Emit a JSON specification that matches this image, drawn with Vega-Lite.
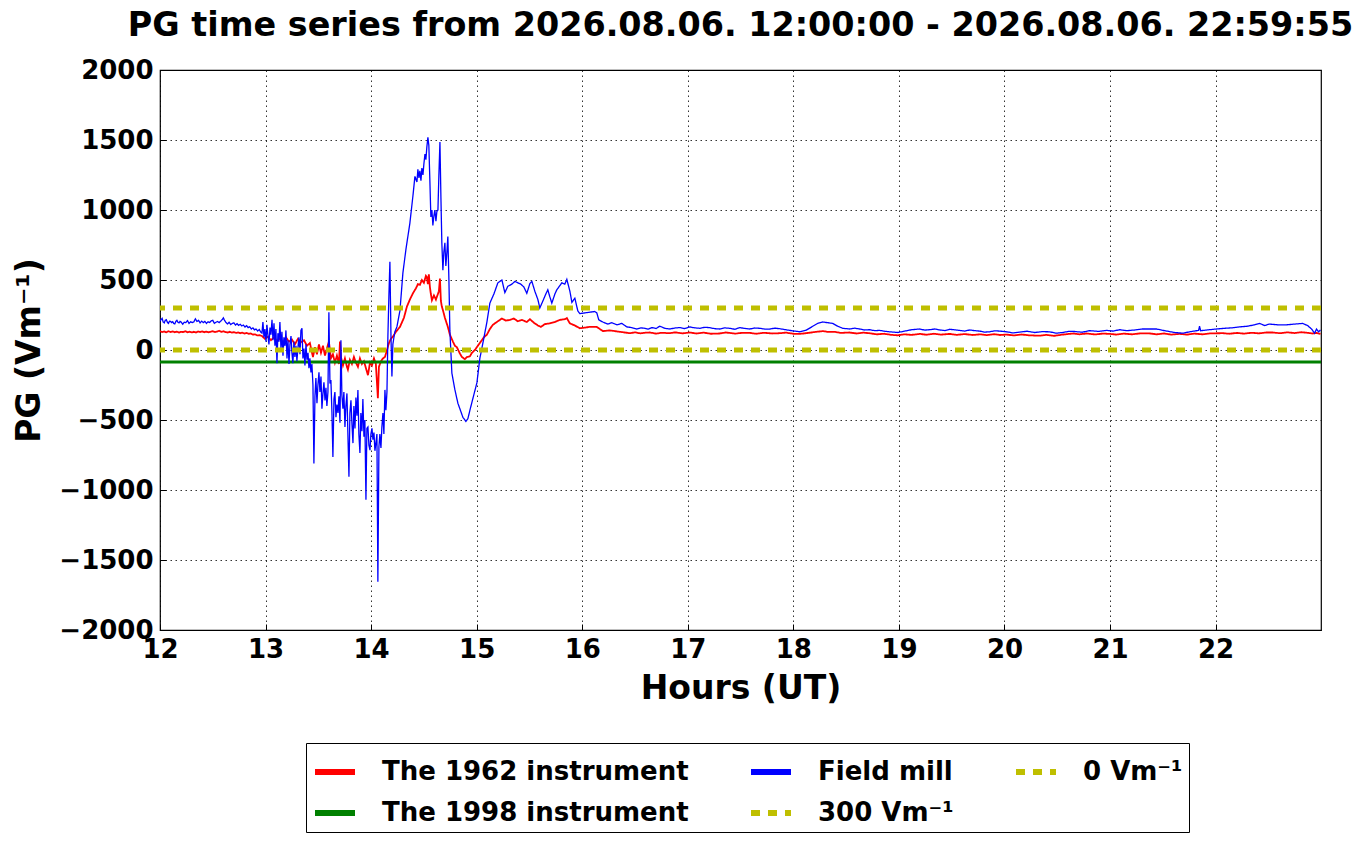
{
  "$schema": "https://vega.github.io/schema/vega-lite/v6.json",
  "width": 1161,
  "height": 560,
  "autosize": {"type": "none"},
  "padding": {"left": 160, "top": 70, "right": 40, "bottom": 214},
  "background": "white",
  "title": {
    "text": "PG time series from 2026.08.06. 12:00:00 - 2026.08.06. 22:59:55",
    "anchor": "middle",
    "offset": 14,
    "font": "DejaVu Sans",
    "fontSize": 33.4,
    "fontWeight": "bold",
    "color": "black"
  },
  "config": {
    "view": {"stroke": "black", "strokeWidth": 1.2},
    "axis": {
      "labelFont": "DejaVu Sans",
      "labelFontSize": 26,
      "labelFontWeight": "bold",
      "labelColor": "black",
      "labelFlush": false,
      "labelOverlap": false,
      "titleFont": "DejaVu Sans",
      "titleFontSize": 33,
      "titleFontWeight": "bold",
      "titleColor": "black",
      "domain": false,
      "ticks": true,
      "tickColor": "black",
      "tickWidth": 1,
      "tickSize": -6,
      "grid": true,
      "gridColor": "black",
      "gridDash": [1.5, 3.5],
      "gridWidth": 1,
      "gridOpacity": 0.8
    },
    "legend": {
      "labelFont": "DejaVu Sans",
      "labelFontSize": 26,
      "labelFontWeight": "bold",
      "labelColor": "black",
      "labelLimit": 0
    }
  },
  "datasets": {
    "pg": [
      {"series": "The 1962 instrument", "h": 12.00, "v": 135},
      {"series": "The 1962 instrument", "h": 12.02, "v": 128},
      {"series": "The 1962 instrument", "h": 12.04, "v": 132},
      {"series": "The 1962 instrument", "h": 12.06, "v": 126},
      {"series": "The 1962 instrument", "h": 12.08, "v": 134},
      {"series": "The 1962 instrument", "h": 12.10, "v": 129},
      {"series": "The 1962 instrument", "h": 12.12, "v": 133},
      {"series": "The 1962 instrument", "h": 12.14, "v": 127},
      {"series": "The 1962 instrument", "h": 12.16, "v": 131},
      {"series": "The 1962 instrument", "h": 12.18, "v": 125},
      {"series": "The 1962 instrument", "h": 12.20, "v": 130},
      {"series": "The 1962 instrument", "h": 12.22, "v": 128},
      {"series": "The 1962 instrument", "h": 12.24, "v": 134},
      {"series": "The 1962 instrument", "h": 12.26, "v": 127},
      {"series": "The 1962 instrument", "h": 12.28, "v": 131},
      {"series": "The 1962 instrument", "h": 12.30, "v": 126},
      {"series": "The 1962 instrument", "h": 12.32, "v": 130},
      {"series": "The 1962 instrument", "h": 12.34, "v": 125},
      {"series": "The 1962 instrument", "h": 12.36, "v": 132},
      {"series": "The 1962 instrument", "h": 12.38, "v": 128},
      {"series": "The 1962 instrument", "h": 12.40, "v": 133},
      {"series": "The 1962 instrument", "h": 12.42, "v": 127},
      {"series": "The 1962 instrument", "h": 12.44, "v": 131},
      {"series": "The 1962 instrument", "h": 12.46, "v": 126},
      {"series": "The 1962 instrument", "h": 12.48, "v": 130},
      {"series": "The 1962 instrument", "h": 12.50, "v": 134},
      {"series": "The 1962 instrument", "h": 12.52, "v": 128},
      {"series": "The 1962 instrument", "h": 12.54, "v": 132},
      {"series": "The 1962 instrument", "h": 12.56, "v": 137},
      {"series": "The 1962 instrument", "h": 12.58, "v": 130},
      {"series": "The 1962 instrument", "h": 12.60, "v": 134},
      {"series": "The 1962 instrument", "h": 12.62, "v": 128},
      {"series": "The 1962 instrument", "h": 12.64, "v": 125},
      {"series": "The 1962 instrument", "h": 12.66, "v": 130},
      {"series": "The 1962 instrument", "h": 12.68, "v": 124},
      {"series": "The 1962 instrument", "h": 12.70, "v": 128},
      {"series": "The 1962 instrument", "h": 12.72, "v": 122},
      {"series": "The 1962 instrument", "h": 12.74, "v": 126},
      {"series": "The 1962 instrument", "h": 12.76, "v": 120},
      {"series": "The 1962 instrument", "h": 12.78, "v": 124},
      {"series": "The 1962 instrument", "h": 12.80, "v": 118},
      {"series": "The 1962 instrument", "h": 12.82, "v": 122},
      {"series": "The 1962 instrument", "h": 12.84, "v": 116},
      {"series": "The 1962 instrument", "h": 12.86, "v": 118},
      {"series": "The 1962 instrument", "h": 12.88, "v": 110},
      {"series": "The 1962 instrument", "h": 12.90, "v": 112},
      {"series": "The 1962 instrument", "h": 12.92, "v": 104},
      {"series": "The 1962 instrument", "h": 12.94, "v": 106},
      {"series": "The 1962 instrument", "h": 12.966, "v": 100},
      {"series": "The 1962 instrument", "h": 12.994, "v": 80},
      {"series": "The 1962 instrument", "h": 13.023, "v": 95},
      {"series": "The 1962 instrument", "h": 13.051, "v": 70},
      {"series": "The 1962 instrument", "h": 13.080, "v": 90},
      {"series": "The 1962 instrument", "h": 13.108, "v": 60},
      {"series": "The 1962 instrument", "h": 13.136, "v": 85},
      {"series": "The 1962 instrument", "h": 13.165, "v": 50},
      {"series": "The 1962 instrument", "h": 13.193, "v": 90},
      {"series": "The 1962 instrument", "h": 13.222, "v": 60},
      {"series": "The 1962 instrument", "h": 13.250, "v": 75},
      {"series": "The 1962 instrument", "h": 13.278, "v": 40},
      {"series": "The 1962 instrument", "h": 13.307, "v": 80},
      {"series": "The 1962 instrument", "h": 13.335, "v": 55},
      {"series": "The 1962 instrument", "h": 13.364, "v": 70},
      {"series": "The 1962 instrument", "h": 13.392, "v": 30},
      {"series": "The 1962 instrument", "h": 13.420, "v": 50},
      {"series": "The 1962 instrument", "h": 13.449, "v": -50},
      {"series": "The 1962 instrument", "h": 13.468, "v": 20},
      {"series": "The 1962 instrument", "h": 13.487, "v": -30},
      {"series": "The 1962 instrument", "h": 13.506, "v": 40},
      {"series": "The 1962 instrument", "h": 13.525, "v": -20},
      {"series": "The 1962 instrument", "h": 13.544, "v": 30},
      {"series": "The 1962 instrument", "h": 13.563, "v": -40},
      {"series": "The 1962 instrument", "h": 13.581, "v": 10},
      {"series": "The 1962 instrument", "h": 13.600, "v": 60},
      {"series": "The 1962 instrument", "h": 13.619, "v": -60},
      {"series": "The 1962 instrument", "h": 13.638, "v": -30},
      {"series": "The 1962 instrument", "h": 13.657, "v": -90},
      {"series": "The 1962 instrument", "h": 13.676, "v": -40},
      {"series": "The 1962 instrument", "h": 13.695, "v": -100},
      {"series": "The 1962 instrument", "h": 13.705, "v": 60},
      {"series": "The 1962 instrument", "h": 13.714, "v": -50},
      {"series": "The 1962 instrument", "h": 13.733, "v": -110},
      {"series": "The 1962 instrument", "h": 13.752, "v": -60},
      {"series": "The 1962 instrument", "h": 13.771, "v": -120},
      {"series": "The 1962 instrument", "h": 13.780, "v": -140},
      {"series": "The 1962 instrument", "h": 13.799, "v": -70},
      {"series": "The 1962 instrument", "h": 13.818, "v": -100},
      {"series": "The 1962 instrument", "h": 13.837, "v": -50},
      {"series": "The 1962 instrument", "h": 13.856, "v": -90},
      {"series": "The 1962 instrument", "h": 13.875, "v": -120},
      {"series": "The 1962 instrument", "h": 13.894, "v": -60},
      {"series": "The 1962 instrument", "h": 13.913, "v": -100},
      {"series": "The 1962 instrument", "h": 13.932, "v": -80},
      {"series": "The 1962 instrument", "h": 13.951, "v": -130},
      {"series": "The 1962 instrument", "h": 13.970, "v": -180},
      {"series": "The 1962 instrument", "h": 13.989, "v": -90},
      {"series": "The 1962 instrument", "h": 14.008, "v": -110},
      {"series": "The 1962 instrument", "h": 14.027, "v": -60},
      {"series": "The 1962 instrument", "h": 14.045, "v": -100},
      {"series": "The 1962 instrument", "h": 14.064, "v": -345},
      {"series": "The 1962 instrument", "h": 14.074, "v": -120},
      {"series": "The 1962 instrument", "h": 14.093, "v": -80},
      {"series": "The 1962 instrument", "h": 14.112, "v": -60},
      {"series": "The 1962 instrument", "h": 14.131, "v": -50},
      {"series": "The 1962 instrument", "h": 14.150, "v": 0},
      {"series": "The 1962 instrument", "h": 14.169, "v": 50},
      {"series": "The 1962 instrument", "h": 14.188, "v": 80},
      {"series": "The 1962 instrument", "h": 14.206, "v": 95},
      {"series": "The 1962 instrument", "h": 14.235, "v": 130},
      {"series": "The 1962 instrument", "h": 14.273, "v": 165},
      {"series": "The 1962 instrument", "h": 14.311, "v": 230},
      {"series": "The 1962 instrument", "h": 14.339, "v": 310},
      {"series": "The 1962 instrument", "h": 14.367, "v": 360},
      {"series": "The 1962 instrument", "h": 14.396, "v": 405},
      {"series": "The 1962 instrument", "h": 14.424, "v": 440},
      {"series": "The 1962 instrument", "h": 14.443, "v": 470},
      {"series": "The 1962 instrument", "h": 14.462, "v": 465},
      {"series": "The 1962 instrument", "h": 14.481, "v": 500},
      {"series": "The 1962 instrument", "h": 14.500, "v": 480},
      {"series": "The 1962 instrument", "h": 14.519, "v": 530},
      {"series": "The 1962 instrument", "h": 14.528, "v": 520},
      {"series": "The 1962 instrument", "h": 14.538, "v": 470},
      {"series": "The 1962 instrument", "h": 14.547, "v": 540},
      {"series": "The 1962 instrument", "h": 14.557, "v": 450},
      {"series": "The 1962 instrument", "h": 14.566, "v": 400},
      {"series": "The 1962 instrument", "h": 14.576, "v": 355},
      {"series": "The 1962 instrument", "h": 14.595, "v": 390},
      {"series": "The 1962 instrument", "h": 14.614, "v": 360},
      {"series": "The 1962 instrument", "h": 14.623, "v": 380},
      {"series": "The 1962 instrument", "h": 14.633, "v": 400},
      {"series": "The 1962 instrument", "h": 14.642, "v": 420},
      {"series": "The 1962 instrument", "h": 14.652, "v": 510},
      {"series": "The 1962 instrument", "h": 14.661, "v": 350},
      {"series": "The 1962 instrument", "h": 14.670, "v": 310},
      {"series": "The 1962 instrument", "h": 14.680, "v": 285},
      {"series": "The 1962 instrument", "h": 14.699, "v": 230},
      {"series": "The 1962 instrument", "h": 14.727, "v": 165},
      {"series": "The 1962 instrument", "h": 14.746, "v": 110},
      {"series": "The 1962 instrument", "h": 14.775, "v": 60},
      {"series": "The 1962 instrument", "h": 14.794, "v": 30},
      {"series": "The 1962 instrument", "h": 14.812, "v": 20},
      {"series": "The 1962 instrument", "h": 14.841, "v": -25},
      {"series": "The 1962 instrument", "h": 14.860, "v": -50},
      {"series": "The 1962 instrument", "h": 14.888, "v": -65},
      {"series": "The 1962 instrument", "h": 14.907, "v": -50},
      {"series": "The 1962 instrument", "h": 14.936, "v": -45},
      {"series": "The 1962 instrument", "h": 14.955, "v": -20},
      {"series": "The 1962 instrument", "h": 14.983, "v": 0},
      {"series": "The 1962 instrument", "h": 15.011, "v": 30},
      {"series": "The 1962 instrument", "h": 15.030, "v": 50},
      {"series": "The 1962 instrument", "h": 15.068, "v": 90},
      {"series": "The 1962 instrument", "h": 15.097, "v": 110},
      {"series": "The 1962 instrument", "h": 15.125, "v": 150},
      {"series": "The 1962 instrument", "h": 15.153, "v": 180},
      {"series": "The 1962 instrument", "h": 15.191, "v": 200},
      {"series": "The 1962 instrument", "h": 15.239, "v": 225},
      {"series": "The 1962 instrument", "h": 15.277, "v": 210},
      {"series": "The 1962 instrument", "h": 15.314, "v": 215},
      {"series": "The 1962 instrument", "h": 15.352, "v": 225},
      {"series": "The 1962 instrument", "h": 15.390, "v": 205},
      {"series": "The 1962 instrument", "h": 15.428, "v": 215},
      {"series": "The 1962 instrument", "h": 15.475, "v": 200},
      {"series": "The 1962 instrument", "h": 15.504, "v": 220},
      {"series": "The 1962 instrument", "h": 15.542, "v": 195},
      {"series": "The 1962 instrument", "h": 15.580, "v": 175},
      {"series": "The 1962 instrument", "h": 15.608, "v": 165},
      {"series": "The 1962 instrument", "h": 15.646, "v": 185},
      {"series": "The 1962 instrument", "h": 15.693, "v": 190},
      {"series": "The 1962 instrument", "h": 15.741, "v": 200},
      {"series": "The 1962 instrument", "h": 15.788, "v": 215},
      {"series": "The 1962 instrument", "h": 15.835, "v": 220},
      {"series": "The 1962 instrument", "h": 15.854, "v": 228},
      {"series": "The 1962 instrument", "h": 15.883, "v": 190},
      {"series": "The 1962 instrument", "h": 15.930, "v": 175},
      {"series": "The 1962 instrument", "h": 15.977, "v": 155},
      {"series": "The 1962 instrument", "h": 16.025, "v": 160},
      {"series": "The 1962 instrument", "h": 16.072, "v": 165},
      {"series": "The 1962 instrument", "h": 16.138, "v": 165},
      {"series": "The 1962 instrument", "h": 16.195, "v": 135},
      {"series": "The 1962 instrument", "h": 16.261, "v": 140},
      {"series": "The 1962 instrument", "h": 16.356, "v": 130},
      {"series": "The 1962 instrument", "h": 16.451, "v": 120},
      {"series": "The 1962 instrument", "h": 16.50, "v": 126},
      {"series": "The 1962 instrument", "h": 16.55, "v": 119},
      {"series": "The 1962 instrument", "h": 16.60, "v": 124},
      {"series": "The 1962 instrument", "h": 16.64, "v": 125},
      {"series": "The 1962 instrument", "h": 16.70, "v": 117},
      {"series": "The 1962 instrument", "h": 16.75, "v": 123},
      {"series": "The 1962 instrument", "h": 16.83, "v": 120},
      {"series": "The 1962 instrument", "h": 16.88, "v": 126},
      {"series": "The 1962 instrument", "h": 16.95, "v": 119},
      {"series": "The 1962 instrument", "h": 17.02, "v": 125},
      {"series": "The 1962 instrument", "h": 17.08, "v": 118},
      {"series": "The 1962 instrument", "h": 17.15, "v": 124},
      {"series": "The 1962 instrument", "h": 17.22, "v": 116},
      {"series": "The 1962 instrument", "h": 17.30, "v": 118},
      {"series": "The 1962 instrument", "h": 17.36, "v": 125},
      {"series": "The 1962 instrument", "h": 17.45, "v": 117},
      {"series": "The 1962 instrument", "h": 17.52, "v": 123},
      {"series": "The 1962 instrument", "h": 17.59, "v": 122},
      {"series": "The 1962 instrument", "h": 17.65, "v": 116},
      {"series": "The 1962 instrument", "h": 17.72, "v": 123},
      {"series": "The 1962 instrument", "h": 17.80, "v": 118},
      {"series": "The 1962 instrument", "h": 17.87, "v": 120},
      {"series": "The 1962 instrument", "h": 17.93, "v": 124},
      {"series": "The 1962 instrument", "h": 18.00, "v": 116},
      {"series": "The 1962 instrument", "h": 18.06, "v": 115},
      {"series": "The 1962 instrument", "h": 18.12, "v": 120},
      {"series": "The 1962 instrument", "h": 18.17, "v": 125},
      {"series": "The 1962 instrument", "h": 18.23, "v": 131},
      {"series": "The 1962 instrument", "h": 18.28, "v": 135},
      {"series": "The 1962 instrument", "h": 18.33, "v": 129},
      {"series": "The 1962 instrument", "h": 18.39, "v": 130},
      {"series": "The 1962 instrument", "h": 18.45, "v": 122},
      {"series": "The 1962 instrument", "h": 18.53, "v": 125},
      {"series": "The 1962 instrument", "h": 18.60, "v": 118},
      {"series": "The 1962 instrument", "h": 18.66, "v": 124},
      {"series": "The 1962 instrument", "h": 18.72, "v": 120},
      {"series": "The 1962 instrument", "h": 18.79, "v": 112},
      {"series": "The 1962 instrument", "h": 18.86, "v": 116},
      {"series": "The 1962 instrument", "h": 18.93, "v": 108},
      {"series": "The 1962 instrument", "h": 18.99, "v": 105},
      {"series": "The 1962 instrument", "h": 19.05, "v": 112},
      {"series": "The 1962 instrument", "h": 19.12, "v": 108},
      {"series": "The 1962 instrument", "h": 19.20, "v": 115},
      {"series": "The 1962 instrument", "h": 19.26, "v": 109},
      {"series": "The 1962 instrument", "h": 19.33, "v": 116},
      {"series": "The 1962 instrument", "h": 19.40, "v": 110},
      {"series": "The 1962 instrument", "h": 19.48, "v": 115},
      {"series": "The 1962 instrument", "h": 19.55, "v": 108},
      {"series": "The 1962 instrument", "h": 19.62, "v": 114},
      {"series": "The 1962 instrument", "h": 19.70, "v": 107},
      {"series": "The 1962 instrument", "h": 19.77, "v": 112},
      {"series": "The 1962 instrument", "h": 19.83, "v": 106},
      {"series": "The 1962 instrument", "h": 19.90, "v": 113},
      {"series": "The 1962 instrument", "h": 19.96, "v": 107},
      {"series": "The 1962 instrument", "h": 20.02, "v": 110},
      {"series": "The 1962 instrument", "h": 20.09, "v": 104},
      {"series": "The 1962 instrument", "h": 20.16, "v": 111},
      {"series": "The 1962 instrument", "h": 20.23, "v": 105},
      {"series": "The 1962 instrument", "h": 20.33, "v": 102},
      {"series": "The 1962 instrument", "h": 20.40, "v": 108},
      {"series": "The 1962 instrument", "h": 20.47, "v": 101},
      {"series": "The 1962 instrument", "h": 20.55, "v": 110},
      {"series": "The 1962 instrument", "h": 20.65, "v": 118},
      {"series": "The 1962 instrument", "h": 20.71, "v": 112},
      {"series": "The 1962 instrument", "h": 20.78, "v": 118},
      {"series": "The 1962 instrument", "h": 20.86, "v": 111},
      {"series": "The 1962 instrument", "h": 20.93, "v": 117},
      {"series": "The 1962 instrument", "h": 21.00, "v": 115},
      {"series": "The 1962 instrument", "h": 21.06, "v": 110},
      {"series": "The 1962 instrument", "h": 21.13, "v": 117},
      {"series": "The 1962 instrument", "h": 21.21, "v": 112},
      {"series": "The 1962 instrument", "h": 21.29, "v": 119},
      {"series": "The 1962 instrument", "h": 21.38, "v": 118},
      {"series": "The 1962 instrument", "h": 21.44, "v": 112},
      {"series": "The 1962 instrument", "h": 21.51, "v": 118},
      {"series": "The 1962 instrument", "h": 21.58, "v": 110},
      {"series": "The 1962 instrument", "h": 21.66, "v": 115},
      {"series": "The 1962 instrument", "h": 21.73, "v": 110},
      {"series": "The 1962 instrument", "h": 21.80, "v": 117},
      {"series": "The 1962 instrument", "h": 21.88, "v": 112},
      {"series": "The 1962 instrument", "h": 21.95, "v": 119},
      {"series": "The 1962 instrument", "h": 22.07, "v": 120},
      {"series": "The 1962 instrument", "h": 22.13, "v": 116},
      {"series": "The 1962 instrument", "h": 22.20, "v": 122},
      {"series": "The 1962 instrument", "h": 22.27, "v": 117},
      {"series": "The 1962 instrument", "h": 22.34, "v": 123},
      {"series": "The 1962 instrument", "h": 22.41, "v": 119},
      {"series": "The 1962 instrument", "h": 22.48, "v": 125},
      {"series": "The 1962 instrument", "h": 22.54, "v": 125},
      {"series": "The 1962 instrument", "h": 22.61, "v": 120},
      {"series": "The 1962 instrument", "h": 22.68, "v": 126},
      {"series": "The 1962 instrument", "h": 22.75, "v": 121},
      {"series": "The 1962 instrument", "h": 22.81, "v": 127},
      {"series": "The 1962 instrument", "h": 22.86, "v": 124},
      {"series": "The 1962 instrument", "h": 22.92, "v": 118},
      {"series": "The 1962 instrument", "h": 22.96, "v": 122},
      {"series": "The 1962 instrument", "h": 22.994, "v": 115},

      {"series": "Field mill", "h": 12.000, "v": 205},
      {"series": "Field mill", "h": 12.010, "v": 218},
      {"series": "Field mill", "h": 12.020, "v": 226},
      {"series": "Field mill", "h": 12.030, "v": 200},
      {"series": "Field mill", "h": 12.040, "v": 194},
      {"series": "Field mill", "h": 12.050, "v": 212},
      {"series": "Field mill", "h": 12.060, "v": 216},
      {"series": "Field mill", "h": 12.070, "v": 198},
      {"series": "Field mill", "h": 12.080, "v": 190},
      {"series": "Field mill", "h": 12.090, "v": 206},
      {"series": "Field mill", "h": 12.100, "v": 204},
      {"series": "Field mill", "h": 12.110, "v": 196},
      {"series": "Field mill", "h": 12.120, "v": 202},
      {"series": "Field mill", "h": 12.130, "v": 190},
      {"series": "Field mill", "h": 12.140, "v": 186},
      {"series": "Field mill", "h": 12.150, "v": 204},
      {"series": "Field mill", "h": 12.160, "v": 212},
      {"series": "Field mill", "h": 12.170, "v": 198},
      {"series": "Field mill", "h": 12.180, "v": 194},
      {"series": "Field mill", "h": 12.190, "v": 204},
      {"series": "Field mill", "h": 12.200, "v": 200},
      {"series": "Field mill", "h": 12.215, "v": 184},
      {"series": "Field mill", "h": 12.230, "v": 198},
      {"series": "Field mill", "h": 12.245, "v": 196},
      {"series": "Field mill", "h": 12.260, "v": 210},
      {"series": "Field mill", "h": 12.275, "v": 190},
      {"series": "Field mill", "h": 12.290, "v": 202},
      {"series": "Field mill", "h": 12.305, "v": 196},
      {"series": "Field mill", "h": 12.320, "v": 200},
      {"series": "Field mill", "h": 12.335, "v": 222},
      {"series": "Field mill", "h": 12.350, "v": 204},
      {"series": "Field mill", "h": 12.365, "v": 212},
      {"series": "Field mill", "h": 12.380, "v": 194},
      {"series": "Field mill", "h": 12.395, "v": 206},
      {"series": "Field mill", "h": 12.410, "v": 196},
      {"series": "Field mill", "h": 12.425, "v": 204},
      {"series": "Field mill", "h": 12.440, "v": 190},
      {"series": "Field mill", "h": 12.455, "v": 202},
      {"series": "Field mill", "h": 12.470, "v": 196},
      {"series": "Field mill", "h": 12.485, "v": 208},
      {"series": "Field mill", "h": 12.500, "v": 212},
      {"series": "Field mill", "h": 12.515, "v": 190},
      {"series": "Field mill", "h": 12.530, "v": 198},
      {"series": "Field mill", "h": 12.545, "v": 204},
      {"series": "Field mill", "h": 12.560, "v": 196},
      {"series": "Field mill", "h": 12.575, "v": 206},
      {"series": "Field mill", "h": 12.590, "v": 218},
      {"series": "Field mill", "h": 12.600, "v": 230},
      {"series": "Field mill", "h": 12.610, "v": 214},
      {"series": "Field mill", "h": 12.625, "v": 196},
      {"series": "Field mill", "h": 12.640, "v": 186},
      {"series": "Field mill", "h": 12.655, "v": 198},
      {"series": "Field mill", "h": 12.670, "v": 182},
      {"series": "Field mill", "h": 12.685, "v": 190},
      {"series": "Field mill", "h": 12.700, "v": 194},
      {"series": "Field mill", "h": 12.715, "v": 178},
      {"series": "Field mill", "h": 12.730, "v": 188},
      {"series": "Field mill", "h": 12.745, "v": 176},
      {"series": "Field mill", "h": 12.760, "v": 184},
      {"series": "Field mill", "h": 12.775, "v": 172},
      {"series": "Field mill", "h": 12.790, "v": 178},
      {"series": "Field mill", "h": 12.805, "v": 164},
      {"series": "Field mill", "h": 12.820, "v": 174},
      {"series": "Field mill", "h": 12.835, "v": 160},
      {"series": "Field mill", "h": 12.850, "v": 166},
      {"series": "Field mill", "h": 12.865, "v": 150},
      {"series": "Field mill", "h": 12.880, "v": 158},
      {"series": "Field mill", "h": 12.895, "v": 144},
      {"series": "Field mill", "h": 12.910, "v": 150},
      {"series": "Field mill", "h": 12.925, "v": 136},
      {"series": "Field mill", "h": 12.940, "v": 146},
      {"series": "Field mill", "h": 12.955, "v": 128},
      {"series": "Field mill", "h": 12.966, "v": 120},
      {"series": "Field mill", "h": 12.975, "v": 200},
      {"series": "Field mill", "h": 12.985, "v": 90},
      {"series": "Field mill", "h": 12.994, "v": 150},
      {"series": "Field mill", "h": 13.004, "v": 60},
      {"series": "Field mill", "h": 13.013, "v": 180},
      {"series": "Field mill", "h": 13.023, "v": 100},
      {"series": "Field mill", "h": 13.032, "v": 40},
      {"series": "Field mill", "h": 13.042, "v": 160},
      {"series": "Field mill", "h": 13.051, "v": 110},
      {"series": "Field mill", "h": 13.061, "v": 215},
      {"series": "Field mill", "h": 13.070, "v": 70},
      {"series": "Field mill", "h": 13.080, "v": 190},
      {"series": "Field mill", "h": 13.089, "v": 30},
      {"series": "Field mill", "h": 13.098, "v": 150},
      {"series": "Field mill", "h": 13.108, "v": -95},
      {"series": "Field mill", "h": 13.117, "v": 120},
      {"series": "Field mill", "h": 13.127, "v": 60},
      {"series": "Field mill", "h": 13.136, "v": 200},
      {"series": "Field mill", "h": 13.146, "v": 10},
      {"series": "Field mill", "h": 13.155, "v": 130},
      {"series": "Field mill", "h": 13.165, "v": -40},
      {"series": "Field mill", "h": 13.174, "v": 90},
      {"series": "Field mill", "h": 13.184, "v": 30},
      {"series": "Field mill", "h": 13.193, "v": 140},
      {"series": "Field mill", "h": 13.203, "v": -60},
      {"series": "Field mill", "h": 13.212, "v": 70},
      {"series": "Field mill", "h": 13.222, "v": -100},
      {"series": "Field mill", "h": 13.231, "v": 40},
      {"series": "Field mill", "h": 13.241, "v": 100},
      {"series": "Field mill", "h": 13.250, "v": -20},
      {"series": "Field mill", "h": 13.259, "v": -95},
      {"series": "Field mill", "h": 13.269, "v": 60},
      {"series": "Field mill", "h": 13.278, "v": -50},
      {"series": "Field mill", "h": 13.288, "v": 30},
      {"series": "Field mill", "h": 13.297, "v": -80},
      {"series": "Field mill", "h": 13.307, "v": 20},
      {"series": "Field mill", "h": 13.316, "v": 90},
      {"series": "Field mill", "h": 13.326, "v": -30},
      {"series": "Field mill", "h": 13.335, "v": 140},
      {"series": "Field mill", "h": 13.345, "v": 155},
      {"series": "Field mill", "h": 13.354, "v": -60},
      {"series": "Field mill", "h": 13.364, "v": 10},
      {"series": "Field mill", "h": 13.373, "v": -110},
      {"series": "Field mill", "h": 13.383, "v": 40},
      {"series": "Field mill", "h": 13.392, "v": -70},
      {"series": "Field mill", "h": 13.402, "v": -20},
      {"series": "Field mill", "h": 13.411, "v": -130},
      {"series": "Field mill", "h": 13.420, "v": -60},
      {"series": "Field mill", "h": 13.430, "v": -160},
      {"series": "Field mill", "h": 13.439, "v": -100},
      {"series": "Field mill", "h": 13.449, "v": -250},
      {"series": "Field mill", "h": 13.458, "v": -810},
      {"series": "Field mill", "h": 13.468, "v": -330},
      {"series": "Field mill", "h": 13.477, "v": -200},
      {"series": "Field mill", "h": 13.487, "v": -380},
      {"series": "Field mill", "h": 13.496, "v": -250},
      {"series": "Field mill", "h": 13.506, "v": -160},
      {"series": "Field mill", "h": 13.515, "v": -300},
      {"series": "Field mill", "h": 13.525, "v": -190},
      {"series": "Field mill", "h": 13.534, "v": -420},
      {"series": "Field mill", "h": 13.544, "v": -310},
      {"series": "Field mill", "h": 13.553, "v": -230},
      {"series": "Field mill", "h": 13.563, "v": -360},
      {"series": "Field mill", "h": 13.572, "v": -270},
      {"series": "Field mill", "h": 13.581, "v": -400},
      {"series": "Field mill", "h": 13.591, "v": -300},
      {"series": "Field mill", "h": 13.600, "v": 270},
      {"series": "Field mill", "h": 13.610, "v": -240},
      {"series": "Field mill", "h": 13.619, "v": -215},
      {"series": "Field mill", "h": 13.629, "v": -450},
      {"series": "Field mill", "h": 13.638, "v": -765},
      {"series": "Field mill", "h": 13.648, "v": -350},
      {"series": "Field mill", "h": 13.657, "v": -300},
      {"series": "Field mill", "h": 13.667, "v": -480},
      {"series": "Field mill", "h": 13.676, "v": -390},
      {"series": "Field mill", "h": 13.686, "v": -450},
      {"series": "Field mill", "h": 13.695, "v": -330},
      {"series": "Field mill", "h": 13.705, "v": -520},
      {"series": "Field mill", "h": 13.714, "v": 70},
      {"series": "Field mill", "h": 13.723, "v": -320},
      {"series": "Field mill", "h": 13.733, "v": -420},
      {"series": "Field mill", "h": 13.742, "v": -300},
      {"series": "Field mill", "h": 13.752, "v": -550},
      {"series": "Field mill", "h": 13.761, "v": -400},
      {"series": "Field mill", "h": 13.771, "v": -310},
      {"series": "Field mill", "h": 13.780, "v": -600},
      {"series": "Field mill", "h": 13.790, "v": -905},
      {"series": "Field mill", "h": 13.799, "v": -450},
      {"series": "Field mill", "h": 13.809, "v": -360},
      {"series": "Field mill", "h": 13.818, "v": -520},
      {"series": "Field mill", "h": 13.828, "v": -665},
      {"series": "Field mill", "h": 13.837, "v": -400},
      {"series": "Field mill", "h": 13.847, "v": -560},
      {"series": "Field mill", "h": 13.856, "v": -340},
      {"series": "Field mill", "h": 13.866, "v": -470},
      {"series": "Field mill", "h": 13.875, "v": -285},
      {"series": "Field mill", "h": 13.884, "v": -600},
      {"series": "Field mill", "h": 13.894, "v": -735},
      {"series": "Field mill", "h": 13.903, "v": -450},
      {"series": "Field mill", "h": 13.913, "v": -580},
      {"series": "Field mill", "h": 13.922, "v": -350},
      {"series": "Field mill", "h": 13.932, "v": -620},
      {"series": "Field mill", "h": 13.941, "v": -500},
      {"series": "Field mill", "h": 13.951, "v": -1070},
      {"series": "Field mill", "h": 13.960, "v": -560},
      {"series": "Field mill", "h": 13.970, "v": -550},
      {"series": "Field mill", "h": 13.979, "v": -680},
      {"series": "Field mill", "h": 13.989, "v": -715},
      {"series": "Field mill", "h": 13.998, "v": -600},
      {"series": "Field mill", "h": 14.008, "v": -560},
      {"series": "Field mill", "h": 14.017, "v": -640},
      {"series": "Field mill", "h": 14.027, "v": -590},
      {"series": "Field mill", "h": 14.036, "v": -720},
      {"series": "Field mill", "h": 14.045, "v": -665},
      {"series": "Field mill", "h": 14.055, "v": -600},
      {"series": "Field mill", "h": 14.064, "v": -1655},
      {"series": "Field mill", "h": 14.074, "v": -690},
      {"series": "Field mill", "h": 14.083, "v": -600},
      {"series": "Field mill", "h": 14.093, "v": -700},
      {"series": "Field mill", "h": 14.102, "v": -550},
      {"series": "Field mill", "h": 14.112, "v": -450},
      {"series": "Field mill", "h": 14.121, "v": -600},
      {"series": "Field mill", "h": 14.131, "v": -285},
      {"series": "Field mill", "h": 14.140, "v": -430},
      {"series": "Field mill", "h": 14.150, "v": -300},
      {"series": "Field mill", "h": 14.159, "v": 100},
      {"series": "Field mill", "h": 14.169, "v": 400},
      {"series": "Field mill", "h": 14.178, "v": 630},
      {"series": "Field mill", "h": 14.188, "v": 100},
      {"series": "Field mill", "h": 14.197, "v": -190},
      {"series": "Field mill", "h": 14.206, "v": 40},
      {"series": "Field mill", "h": 14.216, "v": 90},
      {"series": "Field mill", "h": 14.225, "v": 130},
      {"series": "Field mill", "h": 14.244, "v": 165},
      {"series": "Field mill", "h": 14.273, "v": 280},
      {"series": "Field mill", "h": 14.301, "v": 550},
      {"series": "Field mill", "h": 14.330, "v": 720},
      {"series": "Field mill", "h": 14.367, "v": 905},
      {"series": "Field mill", "h": 14.396, "v": 1100},
      {"series": "Field mill", "h": 14.415, "v": 1240},
      {"series": "Field mill", "h": 14.434, "v": 1200},
      {"series": "Field mill", "h": 14.443, "v": 1290},
      {"series": "Field mill", "h": 14.453, "v": 1230},
      {"series": "Field mill", "h": 14.462, "v": 1280},
      {"series": "Field mill", "h": 14.472, "v": 1210},
      {"series": "Field mill", "h": 14.481, "v": 1300},
      {"series": "Field mill", "h": 14.491, "v": 1250},
      {"series": "Field mill", "h": 14.500, "v": 1330},
      {"series": "Field mill", "h": 14.510, "v": 1400},
      {"series": "Field mill", "h": 14.519, "v": 1360},
      {"series": "Field mill", "h": 14.528, "v": 1450},
      {"series": "Field mill", "h": 14.538, "v": 1520},
      {"series": "Field mill", "h": 14.547, "v": 1460},
      {"series": "Field mill", "h": 14.557, "v": 1200},
      {"series": "Field mill", "h": 14.566, "v": 950},
      {"series": "Field mill", "h": 14.576, "v": 1000},
      {"series": "Field mill", "h": 14.585, "v": 890},
      {"series": "Field mill", "h": 14.595, "v": 960},
      {"series": "Field mill", "h": 14.604, "v": 1000},
      {"series": "Field mill", "h": 14.614, "v": 920},
      {"series": "Field mill", "h": 14.623, "v": 990},
      {"series": "Field mill", "h": 14.633, "v": 1000},
      {"series": "Field mill", "h": 14.642, "v": 1250},
      {"series": "Field mill", "h": 14.652, "v": 1485},
      {"series": "Field mill", "h": 14.661, "v": 1100},
      {"series": "Field mill", "h": 14.670, "v": 765},
      {"series": "Field mill", "h": 14.680, "v": 570},
      {"series": "Field mill", "h": 14.689, "v": 700},
      {"series": "Field mill", "h": 14.699, "v": 765},
      {"series": "Field mill", "h": 14.708, "v": 600},
      {"series": "Field mill", "h": 14.718, "v": 700},
      {"series": "Field mill", "h": 14.727, "v": 810},
      {"series": "Field mill", "h": 14.737, "v": 500},
      {"series": "Field mill", "h": 14.746, "v": 140},
      {"series": "Field mill", "h": 14.765, "v": -165},
      {"series": "Field mill", "h": 14.794, "v": -285},
      {"series": "Field mill", "h": 14.822, "v": -380},
      {"series": "Field mill", "h": 14.841, "v": -420},
      {"series": "Field mill", "h": 14.869, "v": -480},
      {"series": "Field mill", "h": 14.898, "v": -510},
      {"series": "Field mill", "h": 14.917, "v": -490},
      {"series": "Field mill", "h": 14.936, "v": -430},
      {"series": "Field mill", "h": 14.973, "v": -320},
      {"series": "Field mill", "h": 15.002, "v": -235},
      {"series": "Field mill", "h": 15.030, "v": -60},
      {"series": "Field mill", "h": 15.059, "v": 50},
      {"series": "Field mill", "h": 15.097, "v": 200},
      {"series": "Field mill", "h": 15.125, "v": 335},
      {"series": "Field mill", "h": 15.163, "v": 400},
      {"series": "Field mill", "h": 15.201, "v": 480},
      {"series": "Field mill", "h": 15.239, "v": 500},
      {"series": "Field mill", "h": 15.267, "v": 410},
      {"series": "Field mill", "h": 15.295, "v": 455},
      {"series": "Field mill", "h": 15.333, "v": 470},
      {"series": "Field mill", "h": 15.362, "v": 490},
      {"series": "Field mill", "h": 15.390, "v": 480},
      {"series": "Field mill", "h": 15.419, "v": 470},
      {"series": "Field mill", "h": 15.447, "v": 450},
      {"series": "Field mill", "h": 15.475, "v": 405},
      {"series": "Field mill", "h": 15.504, "v": 475},
      {"series": "Field mill", "h": 15.523, "v": 490},
      {"series": "Field mill", "h": 15.551, "v": 420},
      {"series": "Field mill", "h": 15.580, "v": 360},
      {"series": "Field mill", "h": 15.598, "v": 300},
      {"series": "Field mill", "h": 15.627, "v": 350},
      {"series": "Field mill", "h": 15.655, "v": 400},
      {"series": "Field mill", "h": 15.674, "v": 430},
      {"series": "Field mill", "h": 15.693, "v": 380},
      {"series": "Field mill", "h": 15.712, "v": 335},
      {"series": "Field mill", "h": 15.741, "v": 400},
      {"series": "Field mill", "h": 15.759, "v": 430},
      {"series": "Field mill", "h": 15.788, "v": 460},
      {"series": "Field mill", "h": 15.807, "v": 480},
      {"series": "Field mill", "h": 15.835, "v": 470},
      {"series": "Field mill", "h": 15.854, "v": 505},
      {"series": "Field mill", "h": 15.883, "v": 420},
      {"series": "Field mill", "h": 15.902, "v": 340},
      {"series": "Field mill", "h": 15.930, "v": 370},
      {"series": "Field mill", "h": 15.958, "v": 280},
      {"series": "Field mill", "h": 15.977, "v": 260},
      {"series": "Field mill", "h": 16.025, "v": 265},
      {"series": "Field mill", "h": 16.072, "v": 270},
      {"series": "Field mill", "h": 16.119, "v": 275},
      {"series": "Field mill", "h": 16.138, "v": 265},
      {"series": "Field mill", "h": 16.157, "v": 215},
      {"series": "Field mill", "h": 16.195, "v": 200},
      {"series": "Field mill", "h": 16.242, "v": 185},
      {"series": "Field mill", "h": 16.280, "v": 195},
      {"series": "Field mill", "h": 16.328, "v": 180},
      {"series": "Field mill", "h": 16.375, "v": 190},
      {"series": "Field mill", "h": 16.422, "v": 165},
      {"series": "Field mill", "h": 16.470, "v": 160},
      {"series": "Field mill", "h": 16.517, "v": 150},
      {"series": "Field mill", "h": 16.555, "v": 158},
      {"series": "Field mill", "h": 16.593, "v": 155},
      {"series": "Field mill", "h": 16.625, "v": 149},
      {"series": "Field mill", "h": 16.659, "v": 160},
      {"series": "Field mill", "h": 16.700, "v": 154},
      {"series": "Field mill", "h": 16.735, "v": 170},
      {"series": "Field mill", "h": 16.782, "v": 155},
      {"series": "Field mill", "h": 16.830, "v": 150},
      {"series": "Field mill", "h": 16.877, "v": 157},
      {"series": "Field mill", "h": 16.924, "v": 160},
      {"series": "Field mill", "h": 16.970, "v": 153},
      {"series": "Field mill", "h": 17.019, "v": 165},
      {"series": "Field mill", "h": 17.066, "v": 158},
      {"series": "Field mill", "h": 17.114, "v": 155},
      {"series": "Field mill", "h": 17.160, "v": 162},
      {"series": "Field mill", "h": 17.208, "v": 160},
      {"series": "Field mill", "h": 17.255, "v": 152},
      {"series": "Field mill", "h": 17.303, "v": 150},
      {"series": "Field mill", "h": 17.350, "v": 158},
      {"series": "Field mill", "h": 17.398, "v": 155},
      {"series": "Field mill", "h": 17.445, "v": 148},
      {"series": "Field mill", "h": 17.492, "v": 160},
      {"series": "Field mill", "h": 17.540, "v": 154},
      {"series": "Field mill", "h": 17.587, "v": 150},
      {"series": "Field mill", "h": 17.635, "v": 157},
      {"series": "Field mill", "h": 17.682, "v": 155},
      {"series": "Field mill", "h": 17.730, "v": 149},
      {"series": "Field mill", "h": 17.777, "v": 150},
      {"series": "Field mill", "h": 17.825, "v": 156},
      {"series": "Field mill", "h": 17.871, "v": 152},
      {"series": "Field mill", "h": 17.920, "v": 146},
      {"series": "Field mill", "h": 17.966, "v": 140},
      {"series": "Field mill", "h": 18.015, "v": 135},
      {"series": "Field mill", "h": 18.061, "v": 130},
      {"series": "Field mill", "h": 18.117, "v": 140},
      {"series": "Field mill", "h": 18.174, "v": 165},
      {"series": "Field mill", "h": 18.231, "v": 190},
      {"series": "Field mill", "h": 18.278, "v": 200},
      {"series": "Field mill", "h": 18.326, "v": 195},
      {"series": "Field mill", "h": 18.373, "v": 190},
      {"series": "Field mill", "h": 18.420, "v": 170},
      {"series": "Field mill", "h": 18.468, "v": 155},
      {"series": "Field mill", "h": 18.534, "v": 150},
      {"series": "Field mill", "h": 18.580, "v": 156},
      {"series": "Field mill", "h": 18.629, "v": 150},
      {"series": "Field mill", "h": 18.675, "v": 143},
      {"series": "Field mill", "h": 18.723, "v": 145},
      {"series": "Field mill", "h": 18.770, "v": 138},
      {"series": "Field mill", "h": 18.818, "v": 140},
      {"series": "Field mill", "h": 18.865, "v": 134},
      {"series": "Field mill", "h": 18.913, "v": 130},
      {"series": "Field mill", "h": 18.989, "v": 125},
      {"series": "Field mill", "h": 19.055, "v": 135},
      {"series": "Field mill", "h": 19.121, "v": 145},
      {"series": "Field mill", "h": 19.197, "v": 150},
      {"series": "Field mill", "h": 19.245, "v": 142},
      {"series": "Field mill", "h": 19.292, "v": 145},
      {"series": "Field mill", "h": 19.340, "v": 150},
      {"series": "Field mill", "h": 19.386, "v": 143},
      {"series": "Field mill", "h": 19.435, "v": 139},
      {"series": "Field mill", "h": 19.481, "v": 148},
      {"series": "Field mill", "h": 19.530, "v": 144},
      {"series": "Field mill", "h": 19.576, "v": 140},
      {"series": "Field mill", "h": 19.625, "v": 135},
      {"series": "Field mill", "h": 19.670, "v": 143},
      {"series": "Field mill", "h": 19.720, "v": 138},
      {"series": "Field mill", "h": 19.765, "v": 135},
      {"series": "Field mill", "h": 19.810, "v": 128},
      {"series": "Field mill", "h": 19.860, "v": 130},
      {"series": "Field mill", "h": 19.905, "v": 137},
      {"series": "Field mill", "h": 19.955, "v": 135},
      {"series": "Field mill", "h": 20.021, "v": 130},
      {"series": "Field mill", "h": 20.080, "v": 122},
      {"series": "Field mill", "h": 20.144, "v": 128},
      {"series": "Field mill", "h": 20.215, "v": 134},
      {"series": "Field mill", "h": 20.286, "v": 125},
      {"series": "Field mill", "h": 20.355, "v": 131},
      {"series": "Field mill", "h": 20.428, "v": 130},
      {"series": "Field mill", "h": 20.490, "v": 120},
      {"series": "Field mill", "h": 20.551, "v": 125},
      {"series": "Field mill", "h": 20.610, "v": 133},
      {"series": "Field mill", "h": 20.665, "v": 132},
      {"series": "Field mill", "h": 20.735, "v": 127},
      {"series": "Field mill", "h": 20.807, "v": 138},
      {"series": "Field mill", "h": 20.890, "v": 133},
      {"series": "Field mill", "h": 20.968, "v": 140},
      {"series": "Field mill", "h": 21.030, "v": 135},
      {"series": "Field mill", "h": 21.091, "v": 145},
      {"series": "Field mill", "h": 21.160, "v": 138},
      {"series": "Field mill", "h": 21.233, "v": 143},
      {"series": "Field mill", "h": 21.305, "v": 150},
      {"series": "Field mill", "h": 21.375, "v": 150},
      {"series": "Field mill", "h": 21.441, "v": 150},
      {"series": "Field mill", "h": 21.517, "v": 138},
      {"series": "Field mill", "h": 21.612, "v": 125},
      {"series": "Field mill", "h": 21.688, "v": 120},
      {"series": "Field mill", "h": 21.754, "v": 130},
      {"series": "Field mill", "h": 21.839, "v": 140},
      {"series": "Field mill", "h": 21.848, "v": 170},
      {"series": "Field mill", "h": 21.858, "v": 138},
      {"series": "Field mill", "h": 21.943, "v": 145},
      {"series": "Field mill", "h": 22.009, "v": 150},
      {"series": "Field mill", "h": 22.085, "v": 155},
      {"series": "Field mill", "h": 22.152, "v": 158},
      {"series": "Field mill", "h": 22.227, "v": 165},
      {"series": "Field mill", "h": 22.303, "v": 170},
      {"series": "Field mill", "h": 22.369, "v": 180},
      {"series": "Field mill", "h": 22.417, "v": 190},
      {"series": "Field mill", "h": 22.464, "v": 175},
      {"series": "Field mill", "h": 22.511, "v": 185},
      {"series": "Field mill", "h": 22.587, "v": 180},
      {"series": "Field mill", "h": 22.672, "v": 180},
      {"series": "Field mill", "h": 22.748, "v": 185},
      {"series": "Field mill", "h": 22.824, "v": 190},
      {"series": "Field mill", "h": 22.871, "v": 175},
      {"series": "Field mill", "h": 22.909, "v": 150},
      {"series": "Field mill", "h": 22.938, "v": 120},
      {"series": "Field mill", "h": 22.956, "v": 150},
      {"series": "Field mill", "h": 22.975, "v": 130},
      {"series": "Field mill", "h": 22.994, "v": 143}
    ],
    "refs": [
      {"series": "The 1998 instrument", "v": -85},
      {"series": "300 Vm⁻¹", "v": 300},
      {"series": "0 Vm⁻¹", "v": 0}
    ]
  },
  "encoding": {
    "color": {
      "field": "series",
      "type": "nominal",
      "scale": {
        "domain": ["The 1962 instrument", "The 1998 instrument", "Field mill", "300 Vm⁻¹", "0 Vm⁻¹"],
        "range": ["#ff0000", "#008000", "#0000ff", "#bfbf00", "#bfbf00"]
      },
      "legend": {
        "title": null,
        "orient": "none",
        "legendX": 146,
        "legendY": 673,
        "columns": 3,
        "columnPadding": 50,
        "rowPadding": 5,
        "padding": 6,
        "strokeColor": "black",
        "fillColor": "white",
        "symbolType": "stroke",
        "symbolSize": 1600,
        "symbolStrokeWidth": 6,
        "labelOffset": 24
      }
    },
    "strokeDash": {
      "field": "series",
      "type": "nominal",
      "scale": {
        "domain": ["The 1962 instrument", "The 1998 instrument", "Field mill", "300 Vm⁻¹", "0 Vm⁻¹"],
        "range": [[1, 0], [1, 0], [1, 0], [9, 8], [9, 8]]
      },
      "legend": {
        "title": null,
        "orient": "none",
        "legendX": 146,
        "legendY": 673,
        "columns": 3,
        "columnPadding": 50,
        "rowPadding": 5,
        "padding": 6,
        "strokeColor": "black",
        "fillColor": "white",
        "symbolType": "stroke",
        "symbolSize": 1600,
        "symbolStrokeWidth": 6,
        "labelOffset": 24
      }
    }
  },
  "layer": [
    {
      "data": {"name": "pg"},
      "transform": [{"filter": "datum.series === 'The 1962 instrument'"}],
      "mark": {"type": "line", "strokeWidth": 1.8, "clip": true},
      "encoding": {
        "x": {
          "field": "h",
          "type": "quantitative",
          "title": "Hours (UT)",
          "scale": {"domain": [12, 22.9986], "nice": false, "zero": false},
          "axis": {"values": [12, 13, 14, 15, 16, 17, 18, 19, 20, 21, 22], "format": "d", "labelPadding": 12, "titlePadding": 10}
        },
        "y": {
          "field": "v",
          "type": "quantitative",
          "title": "PG (Vm⁻¹)",
          "scale": {"domain": [-2000, 2000], "nice": false},
          "axis": {"values": [-2000, -1500, -1000, -500, 0, 500, 1000, 1500, 2000], "format": "d", "labelPadding": 13, "titlePadding": 12}
        }
      }
    },
    {
      "data": {"name": "refs"},
      "transform": [{"filter": "datum.series === 'The 1998 instrument'"}],
      "mark": {"type": "rule", "strokeWidth": 3},
      "encoding": {"y": {"field": "v", "type": "quantitative"}}
    },
    {
      "data": {"name": "pg"},
      "transform": [{"filter": "datum.series === 'Field mill'"}],
      "mark": {"type": "line", "strokeWidth": 1.3, "clip": true},
      "encoding": {
        "x": {"field": "h", "type": "quantitative"},
        "y": {"field": "v", "type": "quantitative"}
      }
    },
    {
      "data": {"name": "refs"},
      "transform": [{"filter": "datum.series !== 'The 1998 instrument'"}],
      "mark": {"type": "rule", "strokeWidth": 5},
      "encoding": {"y": {"field": "v", "type": "quantitative"}}
    }
  ]
}
